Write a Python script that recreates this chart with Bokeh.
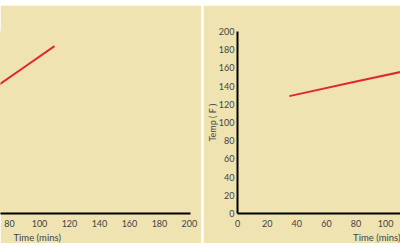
from bokeh.plotting import figure
from bokeh.models import Range1d, FixedTicker, Title, Spacer
from bokeh.layouts import row, column
from bokeh.embed import file_html
from bokeh.resources import INLINE

# ---- data ----
x_ticks = [0, 20, 40, 60, 80, 100, 120, 140, 160, 180, 200]
y_ticks = [0, 20, 40, 60, 80, 100, 120, 140, 160, 180, 200]
left_time = [70, 90, 110]
left_temp = [138, 161, 184]
right_time = [35, 80, 110]
right_temp = [129, 145, 155.5]
x_title = "Time (mins)"
y_title = "Temp ( F )"

BG = "#EFE3B1"
TXT = "#444444"
RED = "#E0282C"
FONT = "Lato"


def style_x(p):
    ax = p.xaxis[0]
    ax.ticker = FixedTicker(ticks=x_ticks)
    ax.axis_line_color = "black"
    ax.axis_line_width = 2
    ax.major_tick_line_color = None
    ax.minor_tick_line_color = None
    ax.major_tick_in = 0
    ax.major_tick_out = 0
    ax.major_label_standoff = 6
    ax.major_label_text_font = FONT
    ax.major_label_text_font_size = "9px"
    ax.major_label_text_color = TXT


def add_x_title(p, align, offset):
    p.add_layout(Title(text=x_title, align=align, offset=offset, standoff=0,
                       text_font=FONT, text_font_style="normal", text_font_size="9.5px",
                       text_color=TXT), "below")


def base(width, xr, mb_left, mb_right):
    p = figure(width=width, height=238, output_backend="svg", toolbar_location=None,
               x_range=xr, y_range=Range1d(0, 200),
               min_border_left=mb_left, min_border_right=mb_right,
               min_border_top=26, min_border_bottom=30,
               background_fill_color=BG, border_fill_color=BG,
               outline_line_color=BG, outline_line_width=1)
    p.grid.visible = False
    return p


# left chart (only its right part is visible)
p1 = base(201, Range1d(74, 200.7), 0, 11)
p1.yaxis.visible = False
style_x(p1)
p1.line(left_time, left_temp, line_color=RED, line_width=2)
add_x_title(p1, "left", 13)

# right chart (only its left part is visible)
p2 = base(197, Range1d(0, 110), 30, 0)
style_x(p2)
ay = p2.yaxis[0]
ay.ticker = FixedTicker(ticks=y_ticks)
ay.axis_line_color = "black"
ay.axis_line_width = 2
ay.major_tick_line_color = None
ay.minor_tick_line_color = None
ay.major_tick_in = 0
ay.major_tick_out = 0
ay.major_label_standoff = 3
ay.major_label_text_font = FONT
ay.major_label_text_font_size = "9px"
ay.major_label_text_color = TXT
ay.axis_label = y_title
ay.axis_label_standoff = -2
ay.axis_label_text_font = FONT
ay.axis_label_text_font_style = "normal"
ay.axis_label_text_font_size = "9px"
ay.axis_label_text_line_height = 1.0
ay.axis_label_text_color = TXT
p2.line(right_time, right_temp, line_color=RED, line_width=2)
add_x_title(p2, "right", 0)

layout = column(Spacer(height=5), row(p1, Spacer(width=2), p2))
open("out.html", "w").write(file_html(layout, INLINE))
